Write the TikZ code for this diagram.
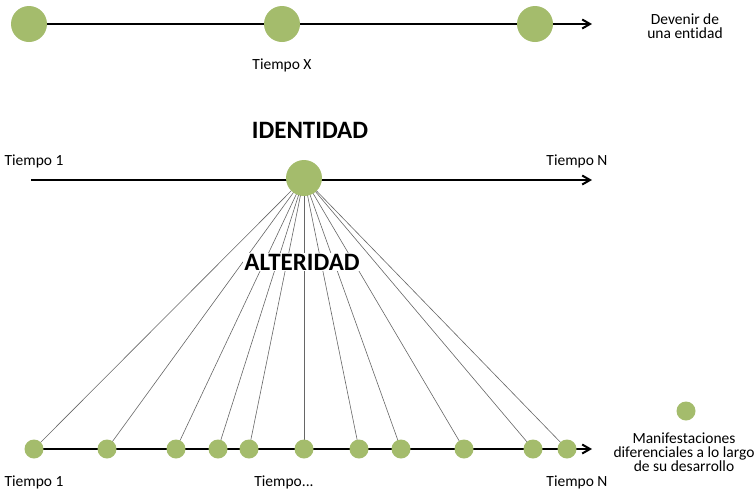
\documentclass[tikz,border=0pt]{standalone}
\usepackage{fontspec}
\setmainfont{Carlito}[Ligatures=NoCommon]
\usetikzlibrary{
  arrows.meta, % for the barbed arrow tips of the time lines
  backgrounds, % to keep the lines behind the dots
  positioning % for relative positioning of the labels
}
\definecolor{leaf}{RGB}{164,188,108}
\tikzset{
  stage/.style={ % style for the big dots
    circle,fill=leaf, % plain green disc
    inner sep=0pt, % no padding
    minimum size=36pt, % same size for every big dot
  },
  moment/.style={ % style for the small dots
    stage, % inherit the stage style
    minimum size=19pt, % but smaller
  },
  timeline/.style={ % style for the time axes
    -{Straight Barb[angle=60:3pt 3]}, % simple barbed arrow tip
    line width=2pt, % thick black axis
  },
  ray/.style={ % style for the thin links
    draw=black!60, % dark gray
    line width=0.6pt,
  },
  caption/.style={ % style for the small texts
    font=\fontsize{15.5}{14}\selectfont, % small text
    align=center,inner sep=0pt,
  },
  heading/.style={ % style for the titles
    font=\bfseries\fontsize{25}{27}\selectfont,
    inner sep=0pt,
  },
}
\begin{document}
\begin{tikzpicture}[x=1pt,y=-1pt]
  \useasboundingbox (0,0) rectangle (756,491);
  % first row: becoming of an entity
  \node[stage] (d1) at (29,24) {};
  \node[stage] (d2) at (282,24) {};
  \node[stage] (d3) at (535,24) {};
  \coordinate (dend) at (592,24);
  \node[caption] (dv) at (685,26) {Devenir de\\una entidad};
  \node[caption, below=16pt of d2] (tx) {Tiempo X};
  % second row: identity
  \node[heading] (id) at (310,130) {IDENTIDAD};
  \node[stage] (core) at (304,178) {};
  \coordinate (a1) at (31,180);
  \coordinate (a2) at (592,180);
  \node[caption] (ta1) at (34,161) {Tiempo 1};
  \node[caption] (ta2) at (577,161) {Tiempo N};
  \node[heading, fill=white, inner sep=1pt] (alt) at (302,262) {ALTERIDAD};
  % third row: manifestations
  \foreach \x [count=\i] in {34,107,176,218,249,304,359,401,464,533,567}
    \node[moment] (m\i) at (\x,449) {};
  \coordinate (bend) at (592,449);
  \node[caption] (tb1) at (34,482) {Tiempo 1};
  \node[caption] (tb2) at (284,482) {Tiempo...};
  \node[caption] (tb3) at (577,482) {Tiempo N};
  % legend
  \node[moment] (key) at (686,411) {};
  \node[caption] (keytxt) at (684,452) {Manifestaciones\\diferenciales a lo largo\\de su desarrollo};
  \begin{scope}[on background layer]
    \draw[timeline] (d1.center) -- (dend);
    \draw[timeline] (a1) -- (a2);
    \draw[timeline] (m1.center) -- (bend);
    \foreach \i in {1,...,11}
      \draw[ray] (core.center) -- (m\i.center);
  \end{scope}
\end{tikzpicture}
\end{document}
